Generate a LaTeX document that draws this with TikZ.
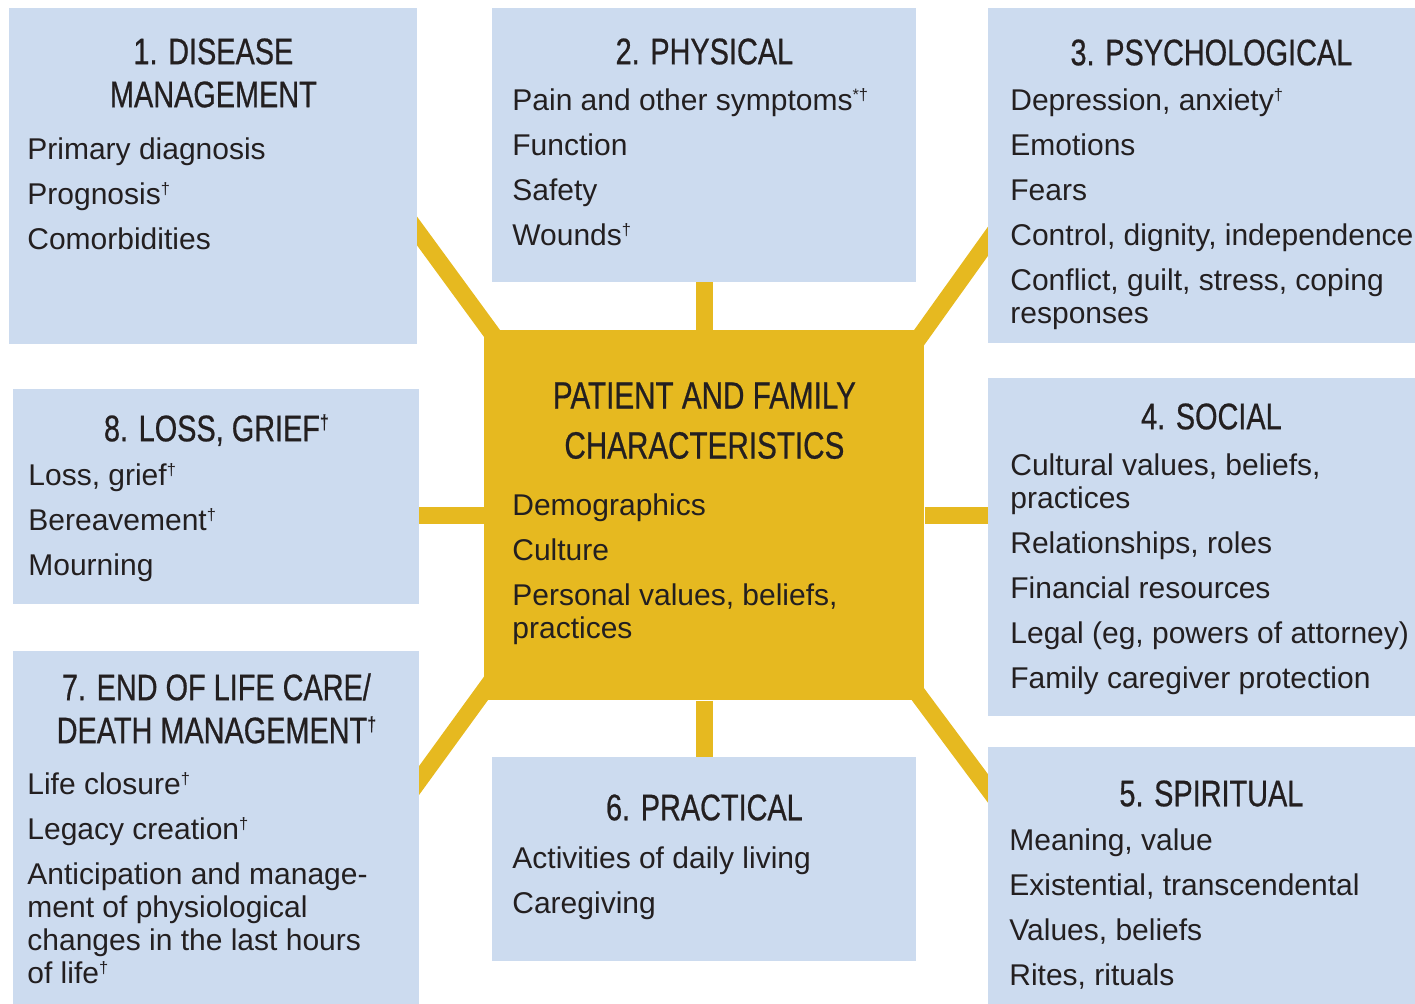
\documentclass[tikz,border=0pt]{standalone}
\usepackage{fontspec}
\setmainfont{Liberation Sans}
\newfontfamily\headfont[FakeStretch=0.78,FakeBold=0.6]{Liberation Sans}
\usepackage{xcolor}
\usepackage{graphicx}
\usetikzlibrary{positioning,backgrounds}

\definecolor{boxblue}{RGB}{204,219,239}
\definecolor{linkgold}{RGB}{230,185,32}
\definecolor{inkgray}{RGB}{35,31,32}
\newcommand{\dg}{\smash{\raisebox{0.33em}{\scalebox{0.55}{†}}}}

\begin{document}
\begin{tikzpicture}[x=0.5pt, y=-0.5pt,
    catbox/.style={rectangle, fill=boxblue, inner sep=0pt, anchor=north west},
    corebox/.style={rectangle, fill=linkgold, inner sep=0pt, anchor=north west},
    cattitle/.style={inner sep=0pt, align=center, text=inkgray, font=\headfont\fontsize{18.5}{21.5}\selectfont},
    coretitle/.style={cattitle, font=\headfont\fontsize{19}{25}\selectfont},
    catitems/.style={inner sep=0pt, align=left, text=inkgray, font=\fontsize{15}{16.5}\selectfont},
    link/.style={linkgold, line width=8.5pt}]

    \useasboundingbox (0,0) rectangle (1415,1003);
    \clip (0,0) rectangle (1415,1003);

    \node (ctr) [corebox, minimum width=220pt, minimum height=185pt] at (484,330) {};
    \node (dis) [catbox, minimum width=204pt, minimum height=168pt] at (9,8) {};
    \node (phy) [catbox, minimum width=212pt, minimum height=137pt] at (492,8) {};
    \node (psy) [catbox, minimum width=223pt, minimum height=167.5pt] at (988,8) {};
    \node (loss) [catbox, minimum width=203pt, minimum height=107.5pt] at (13,389) {};
    \node (soc) [catbox, minimum width=223pt, minimum height=169pt] at (988,378) {};
    \node (eol) [catbox, minimum width=203pt, minimum height=180pt] at (13,651) {};
    \node (prac) [catbox, minimum width=212pt, minimum height=102pt] at (492,757) {};
    \node (spi) [catbox, minimum width=223pt, minimum height=132pt] at (988,747) {};

    \node (ctrtitle) [coretitle, below=26pt of ctr.north] {PATIENT AND FAMILY\\CHARACTERISTICS};
    \node (ctritems) [catitems, below right=81.5pt and 14pt of ctr.north west] {Demographics\\[6pt]Culture\\[6pt]Personal values, beliefs,\\practices};

    \node (distitle) [cattitle, below=15pt of dis.north] {1. DISEASE\\MANAGEMENT};
    \node (disitems) [catitems, below right=64.5pt and 9pt of dis.north west] {Primary diagnosis\\[6pt]Prognosis\dg\\[6pt]Comorbidities};

    \node (phytitle) [cattitle, below=15pt of phy.north] {2. PHYSICAL};
    \node (phyitems) [catitems, below right=40pt and 10pt of phy.north west] {Pain and other symptoms\smash{\raisebox{0.33em}{\scalebox{0.55}{*†}}}\\[6pt]Function\\[6pt]Safety\\[6pt]Wounds\dg};

    \node (psytitle) [cattitle, below=15.5pt of psy.north] {3. PSYCHOLOGICAL};
    \node (psyitems) [catitems, below right=40pt and 11pt of psy.north west] {Depression, anxiety\dg\\[6pt]Emotions\\[6pt]Fears\\[6pt]Control, dignity, independence\\[6pt]Conflict, guilt, stress, coping\\responses};

    \node (soctitle) [cattitle, below=12.5pt of soc.north] {4. SOCIAL};
    \node (socitems) [catitems, below right=37.5pt and 11pt of soc.north west] {Cultural values, beliefs,\\practices\\[6pt]Relationships, roles\\[6pt]Financial resources\\[6pt]Legal (eg, powers of attorney)\\[6pt]Family caregiver protection};

    \node (spititle) [cattitle, below=16.5pt of spi.north] {5. SPIRITUAL};
    \node (spiitems) [catitems, below right=40.5pt and 10.5pt of spi.north west] {Meaning, value\\[6pt]Existential, transcendental\\[6pt]Values, beliefs\\[6pt]Rites, rituals};

    \node (practitle) [cattitle, below=18.5pt of prac.north] {6. PRACTICAL};
    \node (pracitems) [catitems, below right=44.5pt and 10pt of prac.north west] {Activities of daily living\\[6pt]Caregiving};

    \node (eoltitle) [cattitle, below=11pt of eol.north] {7. END OF LIFE CARE/\\DEATH MANAGEMENT\dg};
    \node (eolitems) [catitems, below right=60.5pt and 7pt of eol.north west] {Life closure\dg\\[6pt]Legacy creation\dg\\[6pt]Anticipation and manage-\\ment of physiological\\changes in the last hours\\of life\dg};

    \node (losstitle) [cattitle, below=13pt of loss.north] {8. LOSS, GRIEF\dg};
    \node (lossitems) [catitems, below right=37pt and 7.5pt of loss.north west] {Loss, grief\dg\\[6pt]Bereavement\dg\\[6pt]Mourning};

    \begin{scope}[on background layer]
        \draw[link] (ctr) -- (ctr |- phy);
        \draw[link] (ctr) -- (ctr |- prac);
        \draw[link] (ctr) -- (ctr -| loss);
        \draw[link] (ctr) -- (ctr -| soc);
        \draw[link] ([shift={(34,39)}]ctr.north west) -- ([shift={(-29,16)}]dis.east);
        \draw[link] ([shift={(-26,36)}]ctr.north east) -- ([shift={(26,29)}]psy.west);
        \draw[link] ([shift={(22,-40)}]ctr.south west) -- ([shift={(-29,-12)}]eol.east);
        \draw[link] ([shift={(-28,-35)}]ctr.south east) -- ([shift={(26,-56)}]spi.west);
    \end{scope}
\end{tikzpicture}
\end{document}
